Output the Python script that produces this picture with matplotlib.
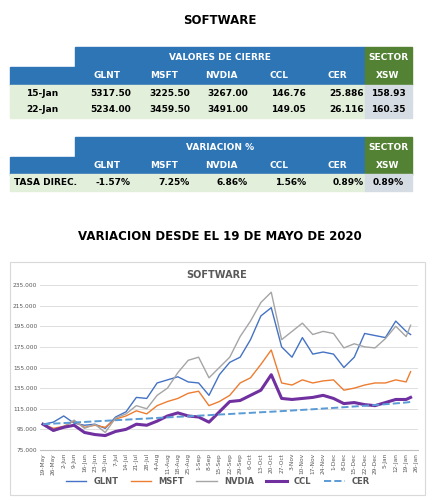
import matplotlib.pyplot as plt
from matplotlib.patches import Rectangle
from matplotlib.ticker import FuncFormatter
import pandas as pd

# table data
tickers = ["GLNT", "MSFT", "NVDIA", "CCL", "CER"]
row_15 = ["5317.50", "3225.50", "3267.00", "146.76", "25.886", "158.93"]
row_22 = ["5234.00", "3459.50", "3491.00", "149.05", "26.116", "160.35"]
var_row = ["-1.57%", "7.25%", "6.86%", "1.56%", "0.89%", "0.89%"]

# chart data (weekly, base 100)
dates = pd.date_range("2020-05-19", periods=36, freq="7D").append(pd.DatetimeIndex(["2021-01-22"]))
glnt = [100, 102, 108, 101, 99, 100, 96, 107, 112, 126, 125, 140, 143, 146, 141, 140, 128, 148, 160,
        165, 182, 205, 213, 175, 165, 184, 168, 170, 168, 155, 165, 188, 186, 184, 200, 190, 187]
msft = [100, 96, 98, 103, 97, 99, 97, 105, 108, 113, 110, 118, 122, 125, 130, 132, 118, 122, 128,
        140, 145, 158, 172, 140, 138, 143, 140, 142, 143, 133, 135, 138, 140, 140, 143, 141, 151]
nvdia = [100, 93, 97, 104, 96, 100, 92, 106, 110, 118, 115, 128, 135, 150, 162, 165, 145, 155, 165,
         185, 200, 218, 228, 182, 190, 198, 187, 190, 188, 174, 178, 175, 174, 183, 195, 185, 196]
ccl = [100, 94, 97, 99, 92, 90, 89, 93, 95, 100, 99, 103, 108, 111, 108, 107, 102, 112, 122,
       123, 128, 133, 148, 125, 124, 125, 126, 128, 125, 120, 121, 119, 118, 121, 124, 124, 126]
cer = [100.0, 100.6, 101.1, 101.7, 102.2, 102.8, 103.3, 103.9, 104.4, 105.0, 105.5, 106.1, 106.6,
       107.2, 107.7, 108.3, 108.8, 109.4, 109.9, 110.5, 111.0, 111.6, 112.1, 112.7, 113.3, 113.9,
       114.5, 115.2, 115.8, 116.5, 117.2, 117.9, 118.6, 119.4, 120.2, 121.1, 121.6]

BLUE = "#2E75B6"
GREEN = "#548235"
LGREEN = "#E2EFDA"
LGRAY = "#D6DCE4"

fig = plt.figure(figsize=(4.4, 5.04), dpi=100)
bg = fig.add_axes([0, 0, 1, 1])
bg.set_xlim(0, 440)
bg.set_ylim(504, 0)
bg.axis("off")

fig.text(0.5, 1 - 20 / 504, "SOFTWARE", ha="center", va="center", fontsize=8.5, weight="bold")
fig.text(0.5, 1 - 236 / 504, "VARIACION DESDE EL 19 DE MAYO DE 2020", ha="center", va="center",
         fontsize=8.5, weight="bold")

name_x = [93, 150, 205, 270, 328]
val_x = [131, 190, 248, 306, 364]


def header(y0, title):
    bg.add_patch(Rectangle((75, y0), 290, 20, color=BLUE))
    bg.add_patch(Rectangle((10, y0 + 20), 355, 18, color=BLUE))
    bg.add_patch(Rectangle((365, y0), 47, 38, color=GREEN))
    bg.text(220, y0 + 10, title, color="white", ha="center", va="center", fontsize=6.5, weight="bold")
    for x, t in zip(name_x, tickers):
        bg.text(x, y0 + 29, t, color="white", ha="left", va="center", fontsize=6.5, weight="bold")
    bg.text(388, y0 + 10, "SECTOR", color="white", ha="center", va="center", fontsize=6.5, weight="bold")
    bg.text(388, y0 + 29, "XSW", color="white", ha="center", va="center", fontsize=6.5, weight="bold")


def data_row(y0, label, vals):
    bg.add_patch(Rectangle((10, y0), 355, 17, color=LGREEN))
    bg.add_patch(Rectangle((365, y0), 47, 17, color=LGRAY))
    left = label == "TASA DIREC."
    bg.text(14 if left else 42, y0 + 8.5, label, ha="left" if left else "center",
            va="center", fontsize=6.5, weight="bold")
    for x, v in zip(val_x, vals[:5]):
        bg.text(x, y0 + 8.5, v, ha="right", va="center", fontsize=6.5, weight="bold")
    bg.text(388, y0 + 8.5, vals[5], ha="center", va="center", fontsize=6.5, weight="bold")


header(47, "VALORES DE CIERRE")
data_row(85, "15-Jan", row_15)
data_row(101, "22-Jan", row_22)
header(137, "VARIACION %")
data_row(174, "TASA DIREC.", var_row)

bg.add_patch(Rectangle((10, 262), 415, 233, fill=False, ec="#D9D9D9", lw=0.8))
bg.text(217, 275, "SOFTWARE", ha="center", va="center", fontsize=7, weight="bold", color="#595959")

ax = fig.add_axes([40 / 440, 1 - 450 / 504, 378 / 440, 165 / 504])
ax.plot(dates, glnt, color="#4472C4", lw=1)
ax.plot(dates, msft, color="#ED7D31", lw=1)
ax.plot(dates, nvdia, color="#A5A5A5", lw=1)
ax.plot(dates, ccl, color="#7030A0", lw=2.2)
ax.plot(dates, cer, color="#5B9BD5", lw=1.4, ls="--")
ax.set_ylim(75, 235)
ax.set_yticks(range(75, 236, 20))
ax.yaxis.set_major_formatter(FuncFormatter(lambda v, p: f"{v:.3f}"))
ticks = pd.date_range("2020-05-19", "2021-01-26", freq="7D")
ax.set_xticks(ticks)
ax.set_xticklabels([d.strftime("%-d-%b") for d in ticks], rotation=90)
ax.set_xlim(pd.Timestamp("2020-05-17"), pd.Timestamp("2021-01-27"))
ax.tick_params(labelsize=4.2, length=0, colors="#595959", pad=2)
ax.grid(axis="y", color="#D9D9D9", lw=0.6)
for s in ["top", "right", "left"]:
    ax.spines[s].set_visible(False)
ax.spines["bottom"].set_color("#BFBFBF")
ax.legend(["GLNT", "MSFT", "NVDIA", "CCL", "CER"], loc="center", bbox_to_anchor=(0.47, -0.19),
          ncol=5, frameon=False, fontsize=6, handlelength=2.5, columnspacing=1.5)
for t in ax.get_legend().get_texts():
    t.set_weight("bold")
    t.set_color("#595959")

fig.savefig("out.png", dpi=100)
